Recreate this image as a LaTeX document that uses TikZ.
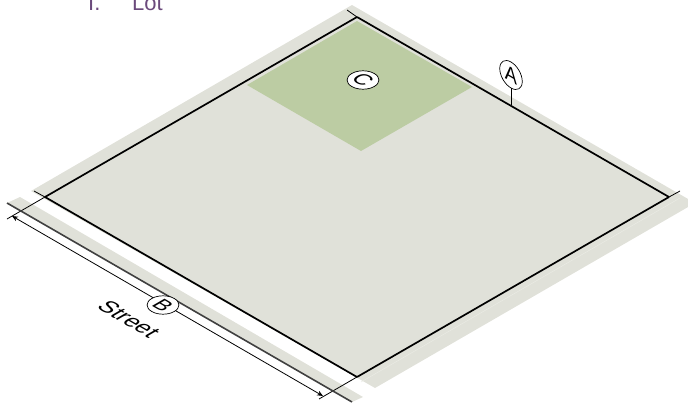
\documentclass[tikz,border=0pt]{standalone}
\usepackage{fontspec}
\usetikzlibrary{arrows.meta}
\setmainfont{Liberation Sans}
\definecolor{lotgrey}{HTML}{E0E1D9}
\definecolor{yardgreen}{HTML}{BCCCA3}
\definecolor{headpurple}{HTML}{6B4A7C}
\definecolor{faintline}{HTML}{EAEBE4}
\tikzset{
    lotline/.style={draw=black,line width=1.7pt},
    tickline/.style={draw=black,line width=0.8pt},
    groundtag/.style={circle,draw,fill=white,inner sep=0pt,minimum size=26pt,line width=0.7pt,transform shape,cm={.866,-.5,.866,.5,(0,0)},font=\fontsize{21}{21}\selectfont},
    walltag/.style={circle,draw,fill=white,inner sep=0pt,minimum size=26pt,line width=0.7pt,transform shape,cm={.866,-.5,0,1,(0,0)},font=\fontsize{21}{21}\selectfont}
}
\begin{document}
\begin{tikzpicture}[x=1pt,y=-1pt]
            \path[use as bounding box,clip] (0,0) rectangle (688,404);

            \coordinate (top) at (357,17);
            \coordinate (right) at (669,197);
            \coordinate (bottom) at (357,377);
            \coordinate (left) at (45,197);

            \fill[lotgrey] (352,5) -- (695,203) -- (375,388) -- (31,191) -- cycle;
            \fill[lotgrey] (20,197) -- (363,397) -- (352,402) -- (7,203) -- cycle;
            \fill[yardgreen] (357,21) -- (472,87) -- (361,151) -- (247,85) -- cycle;
            \draw[faintline,line width=0.5pt] (361,382) -- (680,198);

            \coordinate (topend) at (347,10);
            \coordinate (rightend) at (680,191);
            \coordinate (bottomend) at (319,399);
            \coordinate (leftend) at (34,191);
            \coordinate (leftfoot) at (7,219);
            \coordinate (dimstart) at (12,216);
            \coordinate (dimend) at (323,396);
            \coordinate (stripstart) at (7,203);
            \coordinate (stripend) at (352,402);
            \coordinate (stemfoot) at (511,105);

            \draw[lotline] (top) -- (right);
            \draw[lotline] (right) -- (bottom);
            \draw[lotline] (bottom) -- (left);
            \draw[lotline] (left) -- (top);
            \draw[tickline] (top) -- (topend);
            \draw[tickline] (right) -- (rightend);
            \draw[tickline] (bottom) -- (bottomend);
            \draw[tickline] (left) -- (leftend);
            \draw[tickline] (left) -- (leftfoot);
            \draw[draw=black!75,line width=1.6pt] (stripstart) -- (stripend);
            \draw[tickline,{Stealth[length=6pt,width=5pt]}-{Stealth[length=6pt,width=5pt]}] (dimstart) -- (dimend);

            \node[walltag] (tagA) at (511,75) {A};
            \node[groundtag] (tagB) at (163,305) {B};
            \node[groundtag] (tagC) at (363,80) {C};
            \draw[line width=0.7pt] (tagA) -- (stemfoot);

            \node[transform shape,cm={.866,-.5,.866,.5,(0,0)},font=\fontsize{23}{23}\selectfont] (street) at (129,319) {Street};
            \node[anchor=base west,text=headpurple,font=\fontsize{22}{22}\selectfont,inner sep=0pt] (num) at (88,11) {I.};
            \node[anchor=base west,text=headpurple,font=\fontsize{22}{22}\selectfont,inner sep=0pt] (title) at (132,11) {Lot};
        \end{tikzpicture}
\end{document}
